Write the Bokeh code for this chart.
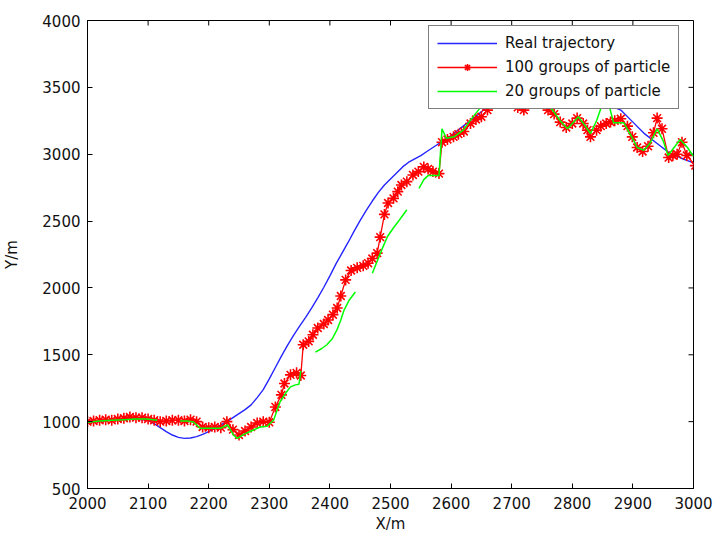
from bokeh.plotting import figure
from bokeh.models import Legend, LegendItem, FixedTicker, Range1d
from bokeh.embed import file_html
from bokeh.resources import INLINE

NaN = float("nan")

# Real trajectory (blue)
real_x = [2000, 2020, 2040, 2060, 2080, 2100, 2110, 2120, 2130, 2140, 2150, 2160, 2170, 2180,
          2190, 2200, 2210, 2220, 2230, 2240, 2250, 2260, 2270, 2280, 2290, 2300, 2310, 2320,
          2330, 2340, 2350, 2360, 2370, 2380, 2390, 2400, 2410, 2420, 2430, 2440, 2450, 2460,
          2470, 2480, 2490, 2500, 2510, 2520, 2530, 2540, 2550, 2560, 2570, 2580, 2590, 2600,
          2620, 2640, 2660, 2680, 2700, 2720, 2740, 2760, 2780, 2800, 2820, 2840, 2860, 2880,
          2900, 2920, 2940, 2960, 2980, 3000]
real_y = [1000, 1005, 1012, 1018, 1020, 1010, 985, 955, 925, 900, 882, 875, 878, 888,
          905, 925, 950, 975, 1000, 1030, 1060, 1090, 1125, 1180, 1240, 1320, 1405, 1490,
          1570, 1645, 1715, 1780, 1850, 1925, 2005, 2090, 2180, 2260, 2340, 2425, 2505, 2580,
          2650, 2715, 2770, 2815, 2860, 2905, 2940, 2965, 2990, 3020, 3050, 3080, 3110, 3140,
          3210, 3280, 3355, 3410, 3450, 3475, 3490, 3490, 3480, 3460, 3430, 3400, 3370, 3330,
          3240, 3150, 3080, 3010, 2970, 2935]

# 100 groups of particle (red, asterisk markers)
p100_x = [2000, 2010, 2020, 2030, 2040, 2050, 2060, 2070, 2080, 2090, 2100, 2110, 2120, 2130,
          2140, 2150, 2160, 2170, 2180, 2190, 2200, 2210, 2220, 2230, 2240, 2250, 2260, 2270,
          2280, 2290, 2300, 2310, 2320, 2325, 2335, 2345, 2352, 2356, 2365, 2372, 2380, 2390,
          2397, 2405, 2412, 2418, 2426, 2435, 2445, 2455, 2463, 2470, 2478, 2483, 2490, 2496,
          2505, 2512, 2518, 2527, 2537, 2546, 2555, 2562, 2570, 2580, 2585, 2594, 2604, 2612,
          2621, 2632, 2641, 2650, 2660, 2670, 2680, 2690, 2700, 2710, 2720, 2730, 2740, 2750,
          2760, 2770, 2780, 2790, 2800, 2808, 2818, 2825, 2830, 2840, 2847, 2856, 2863, 2870,
          2880, 2891, 2899, 2907, 2916, 2925, 2934, 2940, 2948, 2959, 2966, 2973, 2981, 2989,
          3003]
p100_y = [1000, 1005, 1010, 1015, 1010, 1020, 1025, 1035, 1030, 1030, 1020, 1010, 1000, 1005,
          1010, 1010, 1005, 1015, 1000, 960, 955, 960, 955, 1000, 940, 900, 930, 960,
          990, 1000, 995, 1110, 1200, 1285, 1350, 1365, 1345, 1575, 1600, 1650, 1700, 1730,
          1760, 1800, 1850, 1940, 2060, 2130, 2150, 2165, 2185, 2220, 2260, 2380, 2550, 2635,
          2670, 2720, 2770, 2795, 2845, 2870, 2905, 2890, 2870, 2855, 3090, 3110, 3130, 3150,
          3170, 3230, 3260, 3280, 3330, 3380, 3400, 3420, 3380, 3350, 3330, 3400, 3420, 3400,
          3330, 3300, 3240, 3200, 3230, 3270, 3230, 3180, 3130, 3180, 3210, 3230, 3240, 3250,
          3265, 3210, 3130, 3050, 3020, 3060, 3160, 3270, 3190, 2975, 2990, 3000, 3090, 2990,
          2915]

# 20 groups of particle (green, broken segments)
p20_x = [2000, 2020, 2040, 2060, 2080, 2098, 2115, NaN,
         2153, 2165, 2175, 2186, 2200, 2219, 2231, 2241, 2247, 2258, 2270, 2285, 2296, 2307,
         2318, 2328, 2335, 2343, 2349, 2352, NaN,
         2376, 2386, 2395, 2404, 2412, 2418, 2423, 2432, 2442, NaN,
         2470, 2478, 2486, 2495, 2505, 2515, 2527, NaN,
         2547, 2555, 2562, 2572, 2580, 2585, 2592, 2605, 2620, 2632, 2645, 2655, 2680, 2700,
         2720, 2740, 2755, 2769, 2780, 2792, 2800, 2810, 2820, 2830, 2840, 2850, 2860, 2868,
         2885, 2898, 2907, 2918, 2928, 2940, 2950, 2958, 2968, 2978, 2990, 3000]
p20_y = [995, 1005, 1010, 1015, 1020, 1020, 1010, NaN,
         1005, 1005, 997, 950, 950, 950, 975, 900, 875, 905, 930, 960, 965, 1010,
         1150, 1220, 1260, 1275, 1280, 1380, NaN,
         1520, 1545, 1575, 1620, 1690, 1760, 1830, 1910, 1970, NaN,
         2110, 2200, 2290, 2385, 2450, 2510, 2585, NaN,
         2745, 2810, 2840, 2840, 2840, 3190, 3120, 3130, 3180, 3255, 3330, 3390, 3450, 3420,
         3400, 3450, 3400, 3320, 3250, 3190, 3230, 3280, 3220, 3155, 3250, 3380, 3380, 3235,
         3235, 3130, 3050, 3030, 3080, 3190, 3100, 2990, 3050, 3110, 3050, 2985]

x_ticks = [2000, 2100, 2200, 2300, 2400, 2500, 2600, 2700, 2800, 2900, 3000]
y_ticks = [500, 1000, 1500, 2000, 2500, 3000, 3500, 4000]

X_MIN, X_MAX = 2000, 3000
Y_MIN, Y_MAX = 500, 4000

FONT = "DejaVu Sans"

p = figure(width=714, height=535, output_backend="svg", toolbar_location=None,
           x_range=Range1d(X_MIN, X_MAX), y_range=Range1d(Y_MIN, Y_MAX),
           min_border_left=87, min_border_right=21, min_border_top=20, min_border_bottom=47,
           x_axis_label="X/m", y_axis_label="Y/m")
p.outline_line_color = "black"
p.outline_line_width = 1
p.xgrid.visible = False
p.ygrid.visible = False
p.background_fill_color = "white"
p.border_fill_color = "white"

for ax in p.xaxis:
    ax.ticker = FixedTicker(ticks=x_ticks)
    ax.major_label_standoff = 8
    ax.axis_label_standoff = 3
for ax in p.yaxis:
    ax.ticker = FixedTicker(ticks=y_ticks)
    ax.major_label_standoff = 7
    ax.axis_label_standoff = 18

for ax in list(p.xaxis) + list(p.yaxis):
    ax.major_tick_in = 5
    ax.major_tick_out = 0
    ax.minor_tick_line_color = None
    ax.axis_line_color = "black"
    ax.major_tick_line_color = "black"
    ax.major_label_text_font = FONT
    ax.major_label_text_font_size = "15px"
    ax.major_label_text_color = "#111111"
    ax.axis_label_text_font = FONT
    ax.axis_label_text_font_size = "15px"
    ax.axis_label_text_font_style = "normal"
    ax.axis_label_text_color = "#111111"

# inward ticks on the top and right edges of the box (MATLAB "box on" style)
tick_dx = (X_MAX - X_MIN) / 606 * 5
tick_dy = (Y_MAX - Y_MIN) / 468 * 5
p.segment(x0=x_ticks, y0=[Y_MAX] * len(x_ticks), x1=x_ticks, y1=[Y_MAX - tick_dy] * len(x_ticks),
          line_color="black", line_width=1)
p.segment(x0=[X_MAX] * len(y_ticks), y0=y_ticks, x1=[X_MAX - tick_dx] * len(y_ticks), y1=y_ticks,
          line_color="black", line_width=1)

r_real = p.line(real_x, real_y, line_color="#2525ff", line_width=1.4)
r_100l = p.line(p100_x, p100_y, line_color="#ff0000", line_width=1.3)
r_100m = p.scatter(p100_x, p100_y, marker="asterisk", size=11, line_color="#ff0000", line_width=1.6)
r_20 = p.line(p20_x, p20_y, line_color="#00ff00", line_width=1.5)

legend = Legend(items=[
    LegendItem(label="Real trajectory", renderers=[r_real]),
    LegendItem(label="100 groups of particle", renderers=[r_100l, r_100m]),
    LegendItem(label="20 groups of particle", renderers=[r_20]),
], location=(341, 379))
legend.border_line_color = "black"
legend.border_line_width = 1
legend.background_fill_color = "white"
legend.background_fill_alpha = 1.0
legend.label_text_font = FONT
legend.label_text_font_size = "15px"
legend.label_text_color = "#111111"
legend.padding = 8
legend.margin = 0
legend.spacing = 6
legend.label_height = 18
legend.glyph_height = 18
legend.glyph_width = 60
legend.label_standoff = 8
p.add_layout(legend, "center")

open("out.html", "w").write(file_html(p, INLINE))
